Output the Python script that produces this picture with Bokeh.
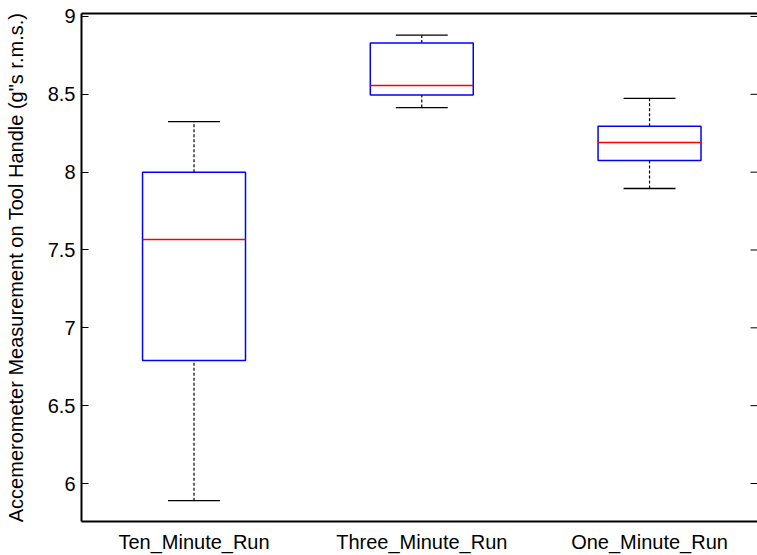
from bokeh.plotting import figure
from bokeh.models import Range1d, LinearAxis, FixedTicker, ColumnDataSource
from bokeh.embed import file_html
from bokeh.resources import INLINE

# ---- data ----
categories = ["Ten_Minute_Run", "Three_Minute_Run", "One_Minute_Run"]
lower_whisker = [5.89, 8.415, 7.895]
q1 = [6.79, 8.495, 8.075]
median = [7.567, 8.556, 8.19]
q3 = [8.00, 8.829, 8.294]
upper_whisker = [8.325, 8.880, 8.474]

y_tick_values = [6, 6.5, 7, 7.5, 8, 8.5, 9]
y_tick_labels = ["6", "6.5", "7", "7.5", "8", "8.5", "9"]

y_label = "Accemerometer Measurement on Tool Handle (g\"s r.m.s.)"

# ---- styling ----
FONT = "Liberation Sans"
FS = "20px"
TXT = "black"
box_w = 0.452
cap_w = 0.228
X_START, X_END = 0.506, 3.474

x_pos = list(range(1, len(categories) + 1))

src = ColumnDataSource(dict(
    x=x_pos,
    lo=lower_whisker, q1=q1, med=median, q3=q3, hi=upper_whisker,
    bx0=[x - box_w / 2 for x in x_pos], bx1=[x + box_w / 2 for x in x_pos],
    cx0=[x - cap_w / 2 for x in x_pos], cx1=[x + cap_w / 2 for x in x_pos],
))

p = figure(width=757, height=555, output_backend="svg", toolbar_location=None,
           x_range=Range1d(X_START, X_END), y_range=Range1d(5.756, 9.019),
           min_border_left=81, min_border_right=0, min_border_top=13, min_border_bottom=34,
           x_axis_type=None, y_axis_type=None)
p.outline_line_color = None
p.xgrid.visible = False
p.ygrid.visible = False
p.background_fill_color = "white"
p.border_fill_color = "white"

# left axis
yax = LinearAxis(ticker=FixedTicker(ticks=y_tick_values),
                 major_label_overrides={v: l for v, l in zip(y_tick_values, y_tick_labels)})
yax.axis_label = y_label
yax.axis_label_text_font = FONT
yax.axis_label_text_font_size = FS
yax.axis_label_text_font_style = "normal"
yax.axis_label_text_color = TXT
yax.axis_label_standoff = 18
yax.major_label_text_font = FONT
yax.major_label_text_font_size = FS
yax.major_label_text_color = TXT
yax.major_label_standoff = 6
yax.major_tick_in = 7
yax.major_tick_out = 0
yax.minor_tick_line_color = None
yax.axis_line_width = 2
yax.major_tick_line_width = 1
p.add_layout(yax, "left")

# bottom axis
xax = LinearAxis(ticker=FixedTicker(ticks=x_pos),
                 major_label_overrides={x: c for x, c in zip(x_pos, categories)})
xax.major_label_text_font = FONT
xax.major_label_text_font_size = FS
xax.major_label_text_color = TXT
xax.major_label_standoff = 3
xax.major_tick_line_color = None
xax.minor_tick_line_color = None
xax.axis_line_width = 2
p.add_layout(xax, "below")

# top frame line
tax = LinearAxis(ticker=FixedTicker(ticks=[]))
tax.major_label_standoff = 0
tax.major_tick_line_color = None
tax.minor_tick_line_color = None
tax.axis_line_width = 2
p.add_layout(tax, "above")

# right-hand inward ticks (the right frame edge lies at the picture's edge)
p.scatter(x=[X_END] * len(y_tick_values), y=y_tick_values, marker="dash",
          size=14, line_color="black", line_width=1)

# whiskers
p.segment(x0="x", y0="q3", x1="x", y1="hi", source=src, line_color="black",
          line_width=1.2, line_dash="3 2")
p.segment(x0="x", y0="lo", x1="x", y1="q1", source=src, line_color="black",
          line_width=1.2, line_dash="3 2")
# caps
p.segment(x0="cx0", y0="hi", x1="cx1", y1="hi", source=src, line_color="black", line_width=1.3)
p.segment(x0="cx0", y0="lo", x1="cx1", y1="lo", source=src, line_color="black", line_width=1.3)
# boxes
p.quad(left="bx0", right="bx1", bottom="q1", top="q3", source=src,
       fill_color=None, line_color="#0000ff", line_width=1.5)
# medians
p.segment(x0="bx0", y0="med", x1="bx1", y1="med", source=src, line_color="#ff0000", line_width=1.5)

open("out.html", "w").write(file_html(p, INLINE))
